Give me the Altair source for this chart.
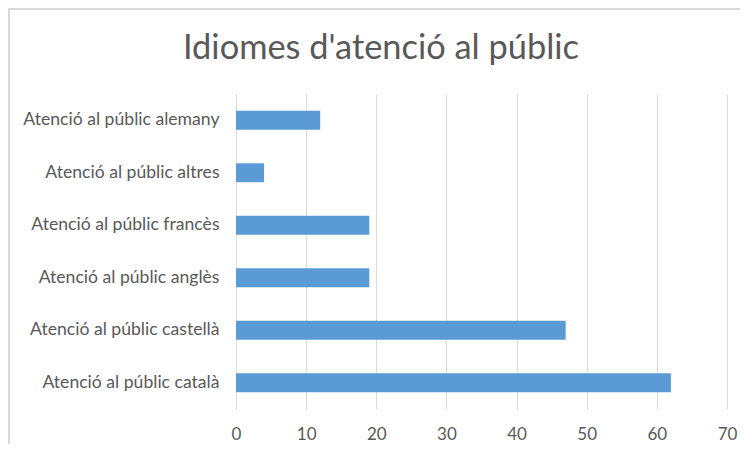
import altair as alt
import pandas as pd

categories = [
    "Atenció al públic alemany",
    "Atenció al públic altres",
    "Atenció al públic francès",
    "Atenció al públic anglès",
    "Atenció al públic castellà",
    "Atenció al públic català",
]
values = [12, 4, 19, 19, 47, 62]
title_text = "Idiomes d'atenció al públic"

df = pd.DataFrame({"cat": categories, "val": values})
tdf = pd.DataFrame({"t": [title_text]})

bars = alt.Chart(df).mark_bar(color="#5B9BD5").encode(
    x=alt.X(
        "val:Q",
        scale=alt.Scale(domain=[0, 70], nice=False),
        axis=alt.Axis(
            values=[0, 10, 20, 30, 40, 50, 60, 70],
            title=None,
            grid=True,
            gridColor="#d9d9d9",
            gridWidth=1,
            domain=False,
            ticks=False,
            labelFlush=False,
            labelFont="Lato",
            labelFontSize=17,
            labelColor="#595959",
            labelPadding=17,
        ),
    ),
    y=alt.Y(
        "cat:N",
        sort=categories,
        scale=alt.Scale(paddingInner=0.64, paddingOuter=0.32),
        axis=alt.Axis(
            title=None,
            domain=False,
            ticks=False,
            grid=False,
            labelFont="Lato",
            labelFontSize=17.6,
            labelColor="#595959",
            labelPadding=17,
            labelLimit=300,
        ),
    ),
)

title = alt.Chart(tdf).mark_text(
    font="Lato", fontSize=34.4, color="#595959", align="center", baseline="alphabetic"
).encode(
    text="t:N",
    x=alt.value(145),
    y=alt.value(-35),
)

border = alt.Chart(tdf).mark_rect(
    fill=None, stroke="#d9d9d9", strokeWidth=2
).encode(
    x=alt.value(-227),
    x2=alt.value(700),
    y=alt.value(-85),
    y2=alt.value(600),
)

chart = alt.layer(bars, title, border).properties(
    width=491,
    height=315,
    padding={"left": 228, "top": 86, "right": 13, "bottom": 35},
    autosize=alt.AutoSizeParams(type="none"),
).configure_view(stroke=None)

chart.save("out.html", embed_options={"renderer": "svg", "actions": False})
